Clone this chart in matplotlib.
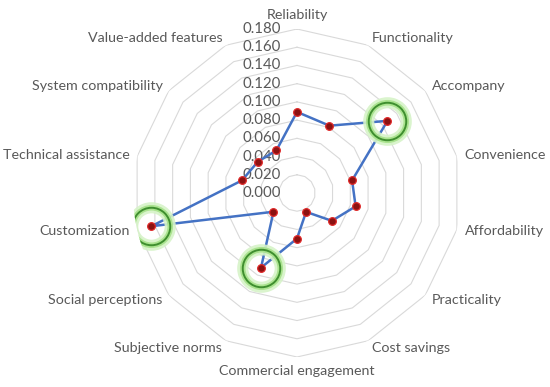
import numpy as np
import matplotlib
matplotlib.use('Agg')
import matplotlib.pyplot as plt

categories = ['Reliability', 'Functionality', 'Accompany', 'Convenience', 'Affordability',
              'Practicality', 'Cost savings', 'Commercial engagement', 'Subjective norms',
              'Social perceptions', 'Customization', 'Technical assistance',
              'System compatibility', 'Value-added features']
values = [0.089, 0.082, 0.127, 0.062, 0.066, 0.049, 0.023, 0.050, 0.091,
          0.033, 0.164, 0.062, 0.055, 0.052]
highlighted = ['Accompany', 'Subjective norms', 'Customization']
ticks = [0.00, 0.02, 0.04, 0.06, 0.08, 0.10, 0.12, 0.14, 0.16, 0.18]
tick_labels = ['%.3f' % t for t in ticks]

TEXT = '#595959'
GRID = '#d9d9d9'
plt.rcParams['font.family'] = ['Lato', 'DejaVu Sans']

fig = plt.figure(figsize=(5.5, 3.87), dpi=100)
# centre at (297, 193) px, outer ring radius 164 px
ax = fig.add_axes([133 / 550, 30 / 387, 328 / 550, 328 / 387], projection='polar')
ax.set_theta_zero_location('N')
ax.set_theta_direction(-1)
ax.set_ylim(0, 0.18)
ax.axis('off')

n = len(categories)
theta = np.linspace(0, 2 * np.pi, n, endpoint=False)
theta_closed = np.append(theta, theta[0])

# polygon grid
for t in ticks[1:]:
    ax.plot(theta_closed, [t] * (n + 1), color=GRID, lw=0.8, zorder=1)

# value labels on the vertical axis
for t, lab in zip(ticks, tick_labels):
    ax.annotate(lab, xy=(0, t), xytext=(-16, 0), textcoords='offset pixels',
                ha='right', va='center', fontsize=10.8, color=TEXT)

# category labels
r_lab = 0.18 * 172 / 164
for th, name in zip(theta, categories):
    s, c = np.sin(th), np.cos(th)
    if abs(s) < 0.1:
        ha = 'center'
        va = 'bottom' if c > 0 else 'top'
    else:
        ha = 'left' if s > 0 else 'right'
        va = 'center'
    ax.text(th, r_lab, name, ha=ha, va=va, fontsize=10.3, color=TEXT)

# data line
vals_closed = values + values[:1]
ax.plot(theta_closed, vals_closed, color='#4472c4', lw=1.8, zorder=3)
ax.plot(theta, values, ls='none', marker='o', ms=5.5, mfc='#8b1212', mec='#e02828',
        mew=0.9, zorder=4)

# highlight rings with soft glow
for th, name, v in zip(theta, categories, values):
    if name in highlighted:
        ax.plot([th], [v], marker='o', ms=27, mfc='none', mec='#d6f3c8', mew=8,
                alpha=0.9, zorder=5)
        ax.plot([th], [v], marker='o', ms=27, mfc='none', mec='#a6e28a', mew=4,
                alpha=0.9, zorder=5)
        ax.plot([th], [v], marker='o', ms=27, mfc='none', mec='#3f8f2f', mew=1.4,
                zorder=6)

fig.savefig('out.png', dpi=100)
